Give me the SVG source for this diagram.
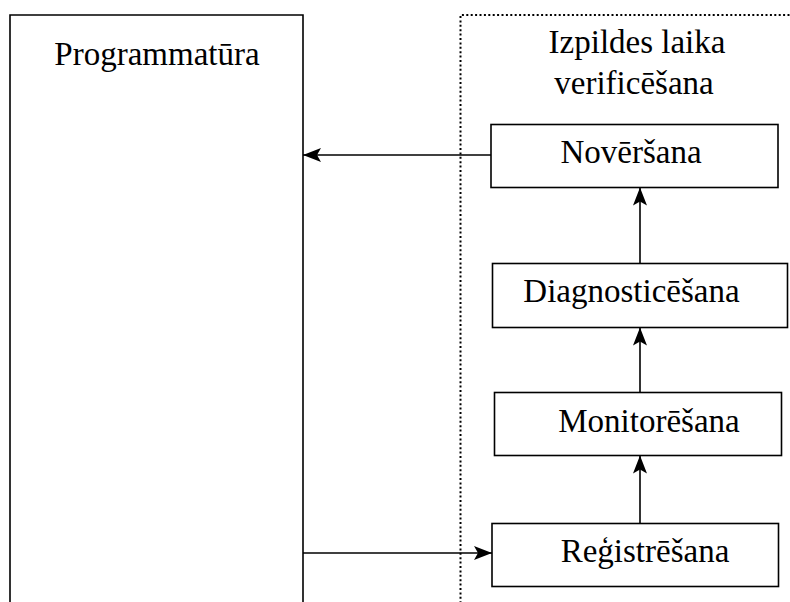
<svg xmlns="http://www.w3.org/2000/svg" width="790" height="602" viewBox="0 0 790 602">
  <style>
    .box { fill: #ffffff; stroke: #000000; stroke-width: 1.6; }
    .label { font-family: "Liberation Serif", "Times New Roman", serif; font-size: 33px; fill: #000000; text-anchor: middle; }
    .edge { fill: none; stroke: #000000; stroke-width: 1.6; marker-end: url(#arrow); }
    .boundary { fill: none; stroke: #000000; stroke-width: 2; stroke-dasharray: 2 2.4; }
  </style>
  <defs>
    <marker id="arrow" viewBox="0 0 18 14" refX="18" refY="7" markerWidth="18" markerHeight="14" markerUnits="userSpaceOnUse" orient="auto">
      <path d="M0,0 L18,7 L0,14 L4,7 z" fill="#000000"/>
    </marker>
  </defs>

  <rect width="790" height="602" fill="#ffffff"/>

  <!-- software component, open at the bottom -->
  <g id="programmatura">
    <path class="box" d="M10,612 V15 H303 V612"/>
    <text class="label" x="157" y="65">Programmatūra</text>
  </g>

  <!-- runtime verification boundary -->
  <g id="izpildes-laika-verificesana">
    <path class="boundary" d="M460.5,612 V15 H792"/>
    <text class="label" x="637" y="53">Izpildes laika</text>
    <text class="label" x="634" y="94">verificēšana</text>
  </g>

  <g id="noversana">
    <rect class="box" x="491" y="124.5" width="287" height="63"/>
    <text class="label" x="631" y="163">Novēršana</text>
  </g>

  <g id="diagnosticesana">
    <rect class="box" x="492.5" y="263.5" width="295" height="64"/>
    <text class="label" x="631.5" y="302">Diagnosticēšana</text>
  </g>

  <g id="monitoresana">
    <rect class="box" x="494.5" y="392.5" width="287" height="63"/>
    <text class="label" x="649" y="432">Monitorēšana</text>
  </g>

  <g id="registresana">
    <rect class="box" x="492" y="523.5" width="286.5" height="63"/>
    <text class="label" x="645" y="562">Reģistrēšana</text>
  </g>

  <g id="connectors">
    <line class="edge" x1="491" y1="155" x2="303" y2="155"/>
    <line class="edge" x1="303" y1="553" x2="492" y2="553"/>
    <line class="edge" x1="640" y1="523.5" x2="640" y2="455.5"/>
    <line class="edge" x1="640" y1="392.5" x2="640" y2="327.5"/>
    <line class="edge" x1="640" y1="263.5" x2="640" y2="187.5"/>
  </g>
</svg>
